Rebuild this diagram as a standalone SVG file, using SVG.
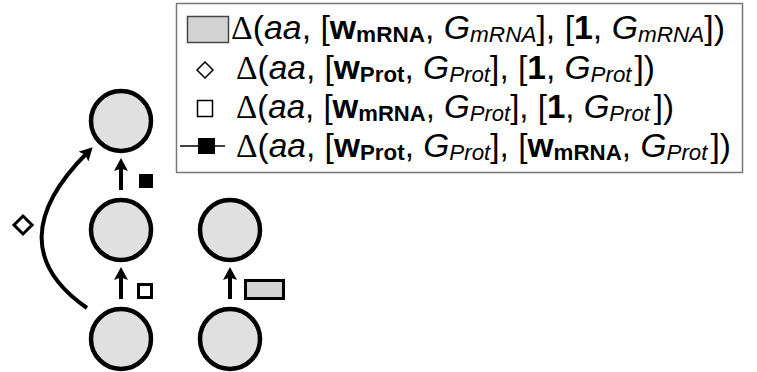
<svg xmlns="http://www.w3.org/2000/svg" width="757" height="372" viewBox="0 0 757 372">
<defs>
<style>
.node{fill:#e0e0e0;stroke:#000;stroke-width:4.5}
.edge{fill:none;stroke:#000;stroke-width:4}
.t{font-family:"Liberation Sans",Arial,sans-serif;font-size:33px;fill:#000}
.d{font-family:"Liberation Serif","Times New Roman",serif}
.i{font-style:italic}
.b{font-weight:bold}
.sb{font-weight:bold;font-size:22px}
.si{font-style:italic;font-size:22px}
</style>
<marker id="ah" markerUnits="userSpaceOnUse" markerWidth="13" markerHeight="14" viewBox="0 0 13 14" refX="5" refY="7" orient="auto">
<path d="M0,0 L13,7 L0,14 L2.5,7 z" fill="#000"/>
</marker>
</defs>
<g id="legend">
<rect x="176.5" y="3.5" width="566" height="169" fill="#fff" stroke="#777" stroke-width="1.5"/>
<rect x="187.5" y="16.5" width="41" height="26" fill="#d3d3d3" stroke="#444" stroke-width="1.5"/>
<polygon points="205,62 213,70 205,78 197,70" fill="#fff" stroke="#000" stroke-width="1.5"/>
<rect x="197.5" y="100.5" width="15" height="16" fill="#fff" stroke="#000" stroke-width="1.5"/>
<line x1="180" y1="146" x2="225" y2="146" stroke="#000" stroke-width="1.5"/>
<rect x="198" y="138" width="17" height="16" fill="#000"/>
<text class="t" x="231" y="39" textLength="494" lengthAdjust="spacingAndGlyphs"><tspan class="d">Δ</tspan>(<tspan class="i">aa</tspan>, [<tspan class="b">w</tspan><tspan class="sb" dy="3">mRNA</tspan><tspan dy="-3">, </tspan><tspan class="i">G</tspan><tspan class="si" dy="3">mRNA</tspan><tspan dy="-3">], [</tspan><tspan class="b">1</tspan>, <tspan class="i">G</tspan><tspan class="si" dy="3">mRNA</tspan><tspan dy="-3">])</tspan></text>
<text class="t" x="236" y="79" textLength="419" lengthAdjust="spacingAndGlyphs"><tspan class="d">Δ</tspan>(<tspan class="i">aa</tspan>, [<tspan class="b">w</tspan><tspan class="sb" dy="3">Prot</tspan><tspan dy="-3">, </tspan><tspan class="i">G</tspan><tspan class="si" dy="3">Prot</tspan><tspan dy="-3">], [</tspan><tspan class="b">1</tspan>, <tspan class="i">G</tspan><tspan class="si" dy="3">Prot</tspan><tspan dy="-3" dx="3">])</tspan></text>
<text class="t" x="236" y="118" textLength="438" lengthAdjust="spacingAndGlyphs"><tspan class="d">Δ</tspan>(<tspan class="i">aa</tspan>, [<tspan class="b">w</tspan><tspan class="sb" dy="3">mRNA</tspan><tspan dy="-3">, </tspan><tspan class="i">G</tspan><tspan class="si" dy="3">Prot</tspan><tspan dy="-3">], [</tspan><tspan class="b">1</tspan>, <tspan class="i">G</tspan><tspan class="si" dy="3">Prot</tspan><tspan dy="-3" dx="4">])</tspan></text>
<text class="t" x="236" y="157" textLength="495" lengthAdjust="spacingAndGlyphs"><tspan class="d">Δ</tspan>(<tspan class="i">aa</tspan>, [<tspan class="b">w</tspan><tspan class="sb" dy="3">Prot</tspan><tspan dy="-3">, </tspan><tspan class="i">G</tspan><tspan class="si" dy="3">Prot</tspan><tspan dy="-3">], [</tspan><tspan class="b">w</tspan><tspan class="sb" dy="3">mRNA</tspan><tspan dy="-3">, </tspan><tspan class="i">G</tspan><tspan class="si" dy="3">Prot</tspan><tspan dy="-3" dx="3">])</tspan></text>
</g>
<g id="connectors">
<line class="edge" x1="121" y1="190" x2="121" y2="166" marker-end="url(#ah)"/>
<line class="edge" x1="121" y1="299" x2="121" y2="275" marker-end="url(#ah)"/>
<line class="edge" x1="230" y1="299" x2="230" y2="275" marker-end="url(#ah)"/>
<path class="edge" d="M87,308 C25,265 28,212 87,153" marker-end="url(#ah)"/>
<rect x="139" y="174" width="14" height="14" fill="#000"/>
<rect x="138.5" y="284.5" width="13" height="13" fill="#fff" stroke="#000" stroke-width="3"/>
<rect x="245.5" y="280.5" width="38" height="18" fill="#d3d3d3" stroke="#000" stroke-width="3"/>
<polygon points="23,216 32,225 23,234 14,225" fill="#fff" stroke="#000" stroke-width="3"/>
</g>
<g id="n_top"><circle class="node" cx="121" cy="121" r="30"/></g>
<g id="n_mid_left"><circle class="node" cx="121" cy="230" r="30"/></g>
<g id="n_mid_right"><circle class="node" cx="230" cy="230" r="30"/></g>
<g id="n_bot_left"><circle class="node" cx="121" cy="339" r="30"/></g>
<g id="n_bot_right"><circle class="node" cx="230" cy="339" r="30"/></g>
</svg>
